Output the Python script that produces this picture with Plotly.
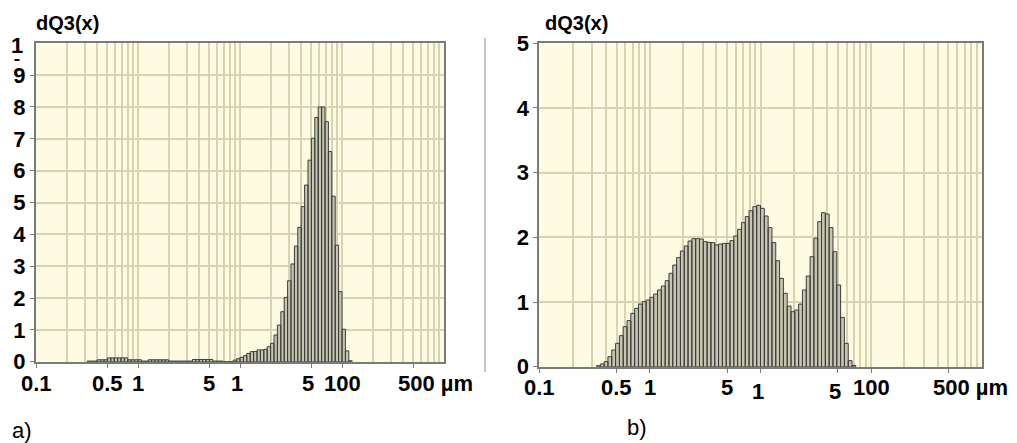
import numpy as np
import plotly.graph_objects as go

# ---- data -------------------------------------------------------------
# Sample a): density distribution dQ3(x) on a geometric size-class grid
a_first_edge_um = 0.1 * 10 ** (15 / 30)
a_classes_per_decade = 30
a_dq3 = [
    0.02, 0.02, 0.02, 0.06, 0.06, 0.06, 0.12, 0.12, 0.12, 0.12, 0.12, 0.12,
    0.06, 0.06, 0.06, 0.06, 0.02, 0.02, 0.06, 0.06, 0.06, 0.06, 0.06, 0.06,
    0.02, 0.02, 0.02, 0.02, 0.02, 0.02, 0.02, 0.07, 0.07, 0.07, 0.07, 0.07,
    0.07, 0.02, 0.02, 0.02, 0.0, 0.0, 0.0,
    0.05, 0.095, 0.137, 0.19, 0.26, 0.315, 0.32, 0.37, 0.37, 0.39, 0.47,
    0.58, 0.84, 1.15, 1.57, 2.02, 2.54, 3.07, 3.63, 4.22, 4.87, 5.55, 6.33,
    7.02, 7.67, 8.0, 8.0, 7.54, 6.6, 5.2, 3.66, 2.2, 1.02, 0.34, 0.03,
]

# Sample b)
b_first_edge_um = 0.1 * 10 ** (15 / 29)
b_classes_per_decade = 29
b_dq3 = [
    0.016, 0.042, 0.078, 0.155, 0.258, 0.361, 0.48, 0.619, 0.712, 0.825,
    0.902, 0.969, 1.005, 1.031, 1.073, 1.124, 1.186, 1.248, 1.33, 1.444,
    1.572, 1.686, 1.789, 1.866, 1.943, 1.979, 1.979, 1.974, 1.933, 1.923,
    1.918, 1.882, 1.897, 1.907, 1.907, 1.949, 2.021, 2.124, 2.227, 2.32,
    2.412, 2.474, 2.495, 2.449, 2.33, 2.15, 1.918, 1.639, 1.366, 1.134,
    0.938, 0.851, 0.877, 0.969, 1.186, 1.402, 1.701, 1.985, 2.242, 2.381,
    2.36, 2.15, 1.778, 1.263, 0.763, 0.361, 0.093, 0.02,
]

x_tick_values = [0.1, 0.5, 1, 5, 10, 50, 100, 500]
x_tick_text = ["0.1", "0.5", "1", "5", "1", "5", "100", "500 µm"]
a_y_ticks = [0, 1, 2, 3, 4, 5, 6, 7, 8, 9]
b_y_ticks = [0, 1, 2, 3, 4, 5]
grid_sizes = [m * 10.0 ** e for e in range(-1, 3) for m in range(1, 10)] + [1000]

# ---- styling ----------------------------------------------------------
W, H = 1017, 443
FONT = "Liberation Sans Narrow, Arial Narrow, Liberation Sans, Arial"
PLOT_BG = "#fdfce3"
GRID = "#d8d4b2"
FRAME = "#7a7a7a"
BAR_FILL = "#c6c6b0"
BAR_LINE = "#3c3c3c"


def px_x(p):
    return p / W


def px_y(p):
    return 1 - p / H


def bar_path(first_edge, per_decade, values):
    edges = first_edge * 10 ** (np.arange(len(values) + 1) / per_decade)
    xs, ys = [], []
    for i, v in enumerate(values):
        xs += [edges[i], edges[i], edges[i + 1], edges[i + 1], edges[i], None]
        ys += [0, v, v, 0, 0, None]
    return xs, ys


fig = go.Figure()

for (xs, ys), ax in ((bar_path(a_first_edge_um, a_classes_per_decade, a_dq3), ""),
                     (bar_path(b_first_edge_um, b_classes_per_decade, b_dq3), "2")):
    fig.add_trace(go.Scatter(
        x=xs, y=ys, mode="lines", fill="toself", fillcolor=BAR_FILL,
        line=dict(color=BAR_LINE, width=1), hoverinfo="skip",
        showlegend=False, xaxis="x" + ax, yaxis="y" + ax,
    ))

common_x = dict(
    type="log", range=[-1, 3], tickvals=x_tick_values, showticklabels=False,
    ticks="outside", ticklen=4, tickcolor=FRAME, tickwidth=1,
    showgrid=True, gridcolor=GRID, gridwidth=2,
    minor=dict(tickvals=grid_sizes, showgrid=True, gridcolor=GRID, gridwidth=2, ticks=""),
    showline=True, linecolor=FRAME, linewidth=2, mirror=True, zeroline=False,
    automargin=False,
)
common_y = dict(
    ticks="outside", ticklen=4, tickcolor=FRAME, tickwidth=1,
    showgrid=True, gridcolor=GRID, gridwidth=2,
    showline=True, linecolor=FRAME, linewidth=2, mirror=True, zeroline=False,
    tickfont=dict(family=FONT, size=22, color="black", weight="bold"),
    automargin=False,
)

fig.update_layout(
    template="none",
    width=W, height=H, margin=dict(l=0, r=0, t=0, b=0, pad=0),
    paper_bgcolor="white", plot_bgcolor=PLOT_BG, showlegend=False,
    xaxis=dict(domain=[px_x(36), px_x(444)], anchor="y", **common_x),
    yaxis=dict(domain=[px_y(361.7), px_y(43.3)], anchor="x", range=[0, 10],
               tickvals=a_y_ticks, ticktext=[str(v) for v in a_y_ticks],
               **common_y),
    xaxis2=dict(domain=[px_x(539.3), px_x(981.7)], anchor="y2", **common_x),
    yaxis2=dict(domain=[px_y(366.7), px_y(43.3)], anchor="x2", range=[0, 5],
                tickvals=b_y_ticks, ticktext=[str(v) for v in b_y_ticks],
                **common_y),
)

bold = dict(family=FONT, size=22, color="black", weight="bold")
title_font = dict(family=FONT, size=20, color="black", weight="bold")
letter_font = dict(family="Liberation Sans, Arial", size=22, color="black")
ann = []
shapes = []


def label(text, x, y, font, xref="paper", **kw):
    d = dict(text=text, xref=xref, yref="paper", x=x, y=y, showarrow=False,
             font=font, xanchor="center", yanchor="middle")
    d.update(kw)
    ann.append(d)


# axis titles
for xc in (67, 576):
    label("dQ3(x)", px_x(xc), px_y(23), title_font)

# top label of panel a (value 10, its second digit cut off below)
label("1", px_x(17), px_y(45), bold)
shapes.append(dict(type="line", xref="paper", yref="paper",
                   x0=px_x(14.5), x1=px_x(19.5), y0=px_y(60), y1=px_y(60),
                   line=dict(color="black", width=2)))

# x tick labels
for xr, ycen, ylow, ydash in (("x", 383.5, 383.5, 398), ("x2", 387, 391.5, 406)):
    for v, t in zip(x_tick_values, x_tick_text):
        cut = v in (10, 50)
        kw = {}
        if t.endswith("µm"):
            kw = dict(xanchor="left", xshift=-17)
        elif cut:
            kw = dict(xshift=-3)
        label(t, np.log10(v), px_y(ylow if cut else ycen), bold, xref=xr, **kw)
        if cut:
            shapes.append(dict(type="line", xref=xr, yref="paper", xsizemode="pixel",
                               xanchor=np.log10(v), x0=-6, x1=-1,
                               y0=px_y(ydash), y1=px_y(ydash),
                               line=dict(color="black", width=2)))

# panel letters
label("a)", px_x(22), px_y(430), letter_font)
label("b)", px_x(637), px_y(427), letter_font)

# divider between the panels
shapes.append(dict(type="line", xref="paper", yref="paper",
                   x0=px_x(485), x1=px_x(485), y0=px_y(38), y1=px_y(372),
                   line=dict(color="#8a8a8a", width=1)))

fig.update_layout(annotations=ann, shapes=shapes)

fig.write_html("out.html")
